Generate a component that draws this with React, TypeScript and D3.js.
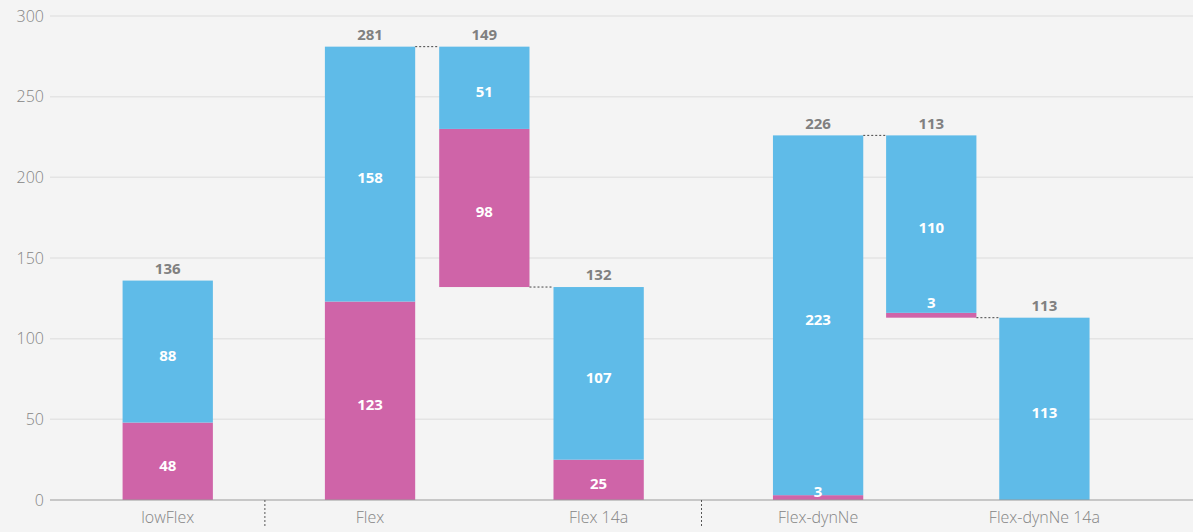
import React from 'react';
import * as d3 from 'd3';

// chart values
const categories = ['lowFlex', 'Flex', '', 'Flex 14a', 'Flex-dynNe', '', 'Flex-dynNe 14a'];
const slotPositions = [1.03, 2.8, 3.8, 4.8, 6.72, 7.71, 8.7];
const dividerPositions = [1.88, 5.7];
const pinkBase = [0, 0, 132, 0, 0, 113, 0];
const pinkValues = [48, 123, 98, 25, 3, 3, 0];
const blueValues = [88, 158, 51, 107, 223, 110, 113];
const totals = [136, 281, 149, 132, 226, 113, 113];
const yTicks = [0, 50, 100, 150, 200, 250, 300];
// connectors between bars: [from index, to index, value level]
const connectors: [number, number, number][] = [
  [1, 2, 281],
  [2, 3, 132],
  [4, 5, 226],
  [5, 6, 113],
];

const W = 1193;
const H = 532;
const BLUE = '#5fbbe8';
const PINK = '#cf64a8';
const FONT = '"Open Sans", sans-serif';

export default function App() {
  const x = d3.scaleLinear().domain([0, 10]).range([50, W]);
  const y = d3.scaleLinear().domain([0, 300]).range([500, 16]);
  const bw = x(0.79) - x(0);

  return (
    <svg width={W} height={H} style={{ position: 'absolute', left: 0, top: 0 }} fontFamily={FONT}>
      <rect width={W} height={H} fill="#f4f4f4" />
      {/* grid + y ticks */}
      {yTicks.map(t => (
        <g key={t}>
          {t > 0 && <line x1={50} x2={W} y1={y(t)} y2={y(t)} stroke="#e4e4e4" strokeWidth={1.5} />}
          <text x={44} y={y(t)} dy="0.35em" textAnchor="end" fontSize={16} fontWeight={300} fill="#848484">{t}</text>
        </g>
      ))}

      {/* bars */}
      {categories.map((c, i) => {
        const cx = x(slotPositions[i]);
        const base = pinkBase[i];
        const pTop = base + pinkValues[i];
        const bTop = pTop + blueValues[i];
        const pinkH = y(base) - y(pTop);
        const blueH = y(pTop) - y(bTop);
        let pinkLabelY = (y(base) + y(pTop)) / 2 + 4;
        if (pinkH < 16) pinkLabelY = base === 0 ? y(0) - 8 : y(pTop) - 10;
        return (
          <g key={i}>
            {pinkValues[i] > 0 && (
              <rect x={cx - bw / 2} y={y(pTop)} width={bw} height={pinkH} fill={PINK} />
            )}
            <rect x={cx - bw / 2} y={y(bTop)} width={bw} height={blueH} fill={BLUE} />
            <text x={cx} y={(y(pTop) + y(bTop)) / 2 + 4} dy="0.35em" textAnchor="middle" fontSize={15} fontWeight={700} fill="#fff">{blueValues[i]}</text>
            {pinkValues[i] > 0 && (
              <text x={cx} y={pinkLabelY} dy="0.35em" textAnchor="middle" fontSize={15} fontWeight={700} fill="#fff">{pinkValues[i]}</text>
            )}
            <text x={cx} y={y(bTop) - 12} dy="0.35em" textAnchor="middle" fontSize={15} fontWeight={700} fill="#808080">{totals[i]}</text>
            {c && (
              <text x={cx} y={517} dy="0.35em" textAnchor="middle" fontSize={16} fontWeight={300} fill="#848484">{c}</text>
            )}
          </g>
        );
      })}

      {/* dotted connectors */}
      {connectors.map(([a, b, v], k) => (
        <line key={k} x1={x(slotPositions[a]) + bw / 2} x2={x(slotPositions[b]) - bw / 2} y1={y(v)} y2={y(v)}
          stroke="#444" strokeWidth={1} strokeDasharray="2,2" />
      ))}

      {/* zero axis */}
      <line x1={50} x2={W} y1={y(0)} y2={y(0)} stroke="#9a9a9a" strokeWidth={1} />

      {/* group dividers */}
      {dividerPositions.map((d, k) => (
        <line key={k} x1={x(d)} x2={x(d)} y1={y(0)} y2={526} stroke="#555" strokeWidth={1} strokeDasharray="2,2" />
      ))}
    </svg>
  );
}
